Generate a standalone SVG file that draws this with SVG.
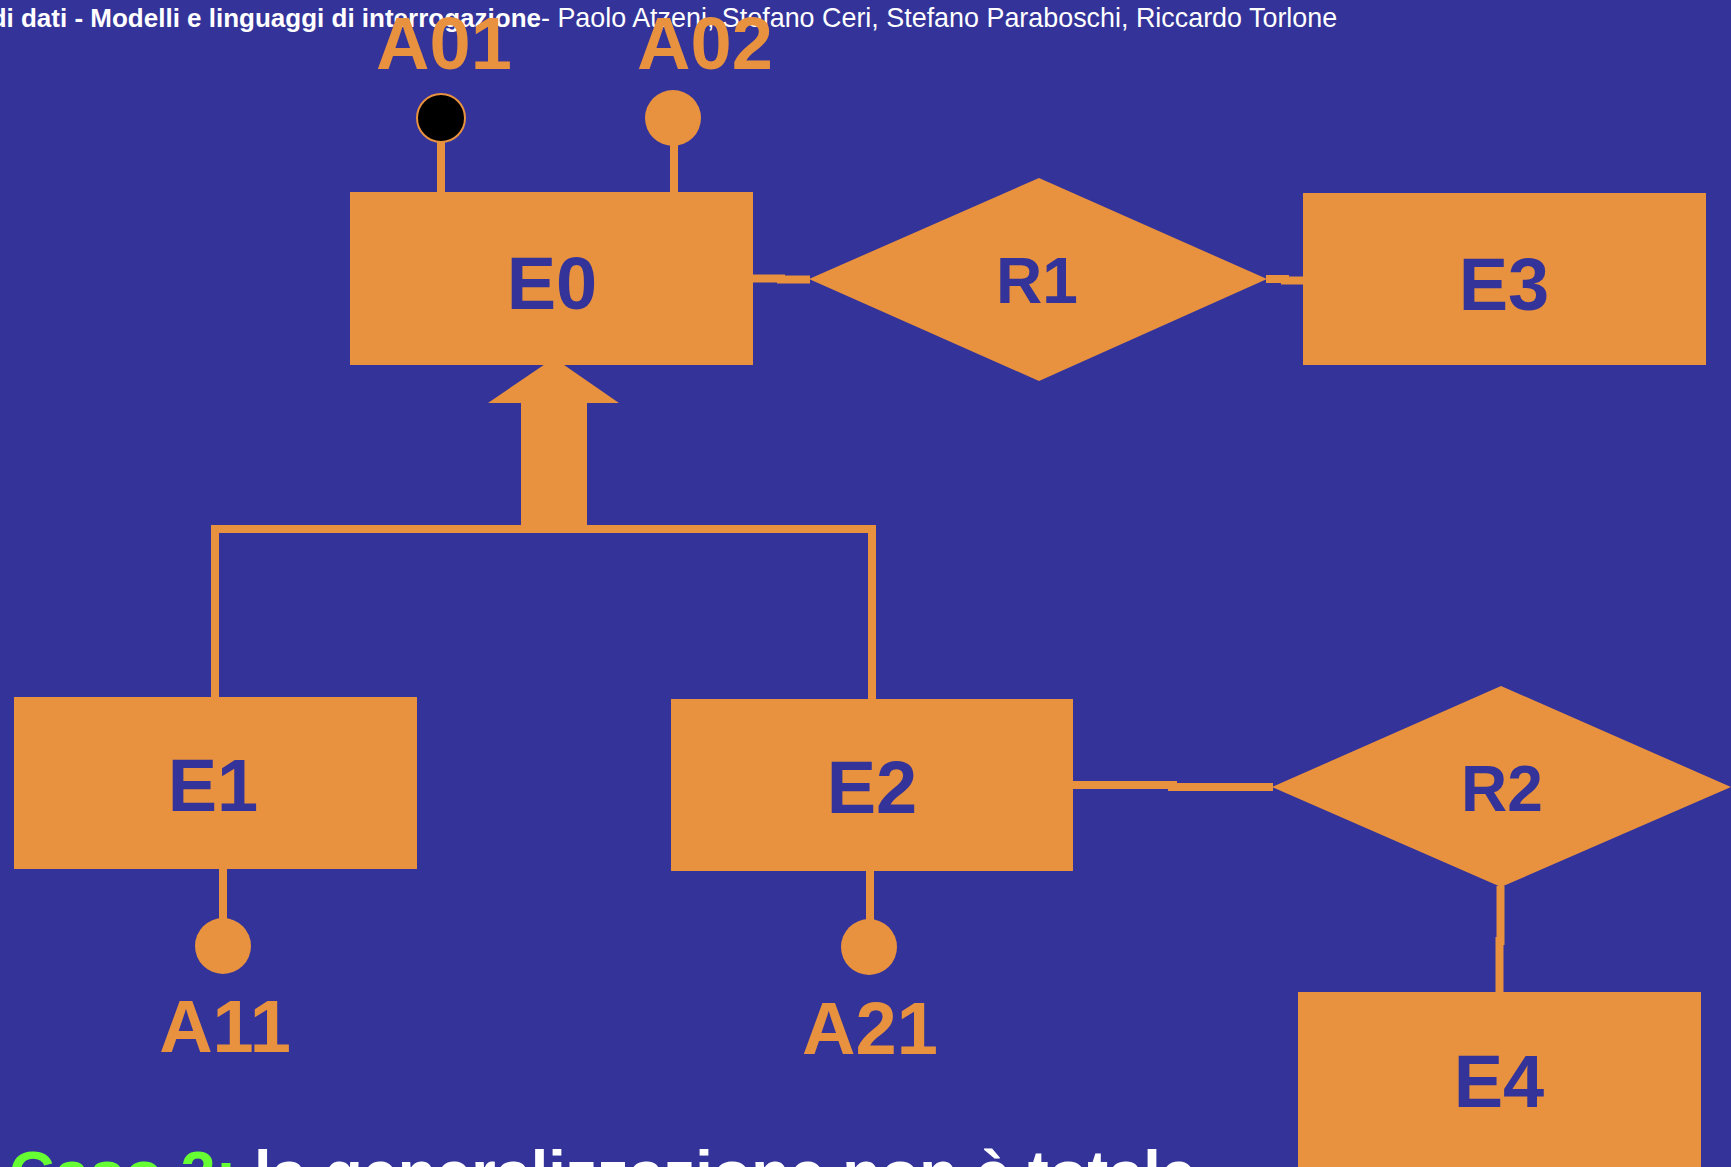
<svg xmlns="http://www.w3.org/2000/svg" width="1731" height="1167" viewBox="0 0 1731 1167">
  <style>
    .shape { fill: #E8923F; }
    .name { font-family: "Liberation Sans", Arial, sans-serif; font-weight: bold; font-size: 74px; fill: #333399; text-anchor: middle; }
    .rel { font-size: 64px; }
    .attr { font-family: "Liberation Sans", Arial, sans-serif; font-weight: bold; font-size: 74px; fill: #E8923F; text-anchor: middle; }
    .link { stroke: #E8923F; stroke-width: 8; fill: none; }
    .head { font-family: "Liberation Sans", Arial, sans-serif; fill: #FFFFFF; }
    .foot { font-family: "Liberation Sans", Arial, sans-serif; font-size: 63px; font-weight: bold; fill: #FFFFFF; }
  </style>

  <!-- slide background -->
  <rect width="1731" height="1167" fill="#333399"/>

  <!-- running header -->
  <text class="head" x="541" y="27" font-size="26px" font-weight="bold" text-anchor="end">Basi di dati - Modelli e linguaggi di interrogazione</text>
  <text class="head" x="541" y="27" font-size="26.9px">- Paolo Atzeni, Stefano Ceri, Stefano Paraboschi, Riccardo Torlone</text>

  <!-- connectors -->
  <g id="connectors">
    <!-- E0 - R1 -->
    <line class="link" x1="752" y1="278.5" x2="785" y2="278.5"/>
    <line class="link" x1="777" y1="279.5" x2="810" y2="279.5"/>
    <!-- R1 - E3 -->
    <line class="link" x1="1266" y1="279" x2="1289" y2="279"/>
    <line class="link" x1="1281" y1="280.5" x2="1304" y2="280.5"/>
    <!-- attribute stems -->
    <line class="link" x1="441" y1="142" x2="441" y2="193"/>
    <line class="link" x1="674" y1="144" x2="674" y2="193"/>
    <line class="link" x1="223" y1="868" x2="223" y2="920"/>
    <line class="link" x1="870" y1="870" x2="870" y2="921"/>
    <!-- generalization E1, E2 -> E0 -->
    <path class="link" d="M215,698 V529 H872 V700"/>
    <polygon class="shape" points="554,358 619,403 587,403 587,530 521,530 521,403 488,403"/>
    <!-- E2 - R2 -->
    <line class="link" x1="1072" y1="785" x2="1177" y2="785"/>
    <line class="link" x1="1168" y1="787" x2="1273" y2="787"/>
    <!-- R2 - E4 -->
    <line class="link" x1="1500.5" y1="886" x2="1500.5" y2="945"/>
    <line class="link" x1="1499.5" y1="937" x2="1499.5" y2="993"/>
  </g>

  <!-- entities -->
  <g id="E0">
    <rect class="shape" x="350" y="192" width="403" height="173"/>
    <text class="name" x="552" y="309">E0</text>
  </g>
  <g id="E3">
    <rect class="shape" x="1303" y="193" width="403" height="172"/>
    <text class="name" x="1504" y="310">E3</text>
  </g>
  <g id="E1">
    <rect class="shape" x="14" y="697" width="403" height="172"/>
    <text class="name" x="213" y="811">E1</text>
  </g>
  <g id="E2">
    <rect class="shape" x="671" y="699" width="402" height="172"/>
    <text class="name" x="872" y="813">E2</text>
  </g>
  <g id="E4">
    <rect class="shape" x="1298" y="992" width="403" height="180"/>
    <text class="name" x="1499" y="1107">E4</text>
  </g>

  <!-- relationships -->
  <g id="R1">
    <polygon class="shape" points="809,279 1039,178 1267,279 1039,381"/>
    <text class="name rel" x="1037" y="303">R1</text>
  </g>
  <g id="R2">
    <polygon class="shape" points="1272,787 1501,686 1731,787 1501,887"/>
    <text class="name rel" x="1502" y="811">R2</text>
  </g>

  <!-- attributes -->
  <g id="A01">
    <circle cx="441" cy="118" r="24" fill="#000000" stroke="#E8923F" stroke-width="2"/>
    <text class="attr" x="444" y="69">A01</text>
  </g>
  <g id="A02">
    <circle class="shape" cx="673" cy="118" r="28"/>
    <text class="attr" x="705" y="69">A02</text>
  </g>
  <g id="A11">
    <circle class="shape" cx="223" cy="946" r="28"/>
    <text class="attr" x="225" y="1052">A11</text>
  </g>
  <g id="A21">
    <circle class="shape" cx="869" cy="947" r="28"/>
    <text class="attr" x="870" y="1054">A21</text>
  </g>

  <!-- caption -->
  <text class="foot" x="9" y="1195"><tspan fill="#66FF33">Caso 2:</tspan> la generalizzazione non è totale</text>
</svg>
